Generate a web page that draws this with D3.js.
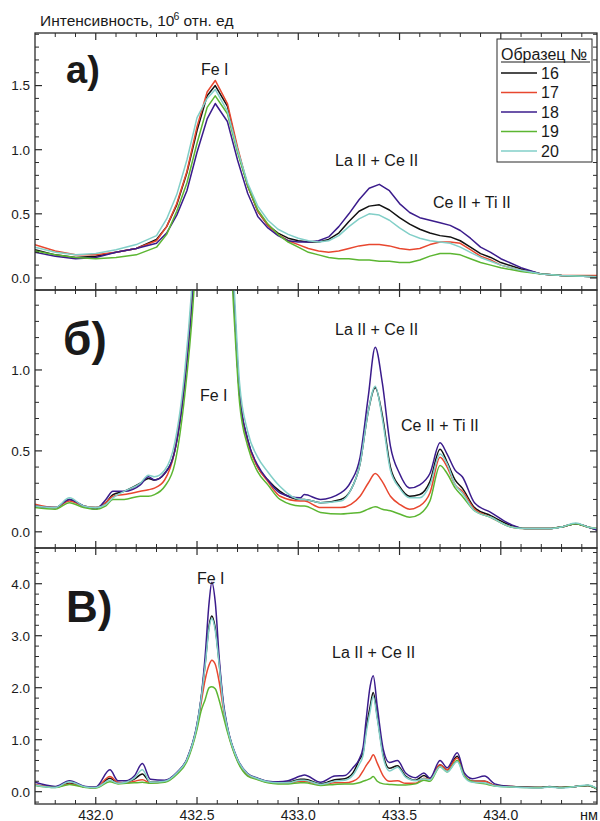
<!DOCTYPE html>
<html><head><meta charset="utf-8">
<script src="https://cdn.jsdelivr.net/npm/d3@7"></script>
<style>
body{margin:0;background:#fff}
svg{display:block}
text{font-family:"Liberation Sans",Arial,sans-serif;fill:#1a1a1a}
</style>
</head><body>
<svg id="c" width="600" height="821"></svg>
<script>
// ---------- DATA ----------
const seriesNames = ["16","17","18","19","20"];
const seriesColors = ["#111111","#e8472f","#3b1c8c","#5cb632","#82cfc8"];

// Panel а
const lambdaA = [431.70,431.80,431.90,432.00,432.10,432.20,432.30,432.35,432.40,432.45,432.50,432.55,432.59,432.65,432.70,432.75,432.80,432.85,432.90,432.95,433.00,433.05,433.10,433.15,433.20,433.25,433.30,433.35,433.40,433.45,433.50,433.55,433.60,433.65,433.70,433.75,433.80,433.85,433.90,433.95,434.00,434.10,434.20,434.30,434.48];
const a16 = [0.22,0.18,0.16,0.17,0.20,0.23,0.30,0.40,0.57,0.82,1.15,1.42,1.50,1.34,1.00,0.72,0.52,0.41,0.35,0.31,0.29,0.28,0.28,0.30,0.35,0.44,0.52,0.56,0.57,0.53,0.47,0.42,0.38,0.35,0.33,0.32,0.29,0.24,0.19,0.16,0.12,0.07,0.03,0.02,0.01];
const a17 = [0.26,0.21,0.18,0.18,0.20,0.23,0.29,0.40,0.58,0.83,1.18,1.45,1.54,1.36,1.02,0.72,0.52,0.41,0.34,0.29,0.26,0.23,0.21,0.20,0.21,0.23,0.25,0.26,0.26,0.25,0.23,0.22,0.23,0.26,0.28,0.28,0.27,0.22,0.17,0.14,0.10,0.06,0.03,0.02,0.02];
const a18 = [0.20,0.17,0.15,0.16,0.20,0.23,0.27,0.35,0.49,0.68,0.98,1.24,1.36,1.22,0.92,0.66,0.48,0.39,0.33,0.29,0.28,0.28,0.29,0.32,0.40,0.50,0.61,0.70,0.73,0.68,0.58,0.51,0.47,0.45,0.43,0.41,0.37,0.31,0.24,0.20,0.15,0.08,0.03,0.02,0.01];
const a19 = [0.21,0.18,0.16,0.15,0.16,0.18,0.24,0.34,0.52,0.74,1.05,1.33,1.42,1.28,0.98,0.72,0.53,0.42,0.34,0.28,0.24,0.20,0.18,0.16,0.15,0.15,0.14,0.14,0.13,0.13,0.12,0.12,0.14,0.17,0.19,0.19,0.18,0.15,0.12,0.10,0.08,0.05,0.03,0.02,0.01];
const a20 = [0.24,0.20,0.18,0.19,0.22,0.26,0.33,0.46,0.65,0.92,1.25,1.40,1.47,1.30,1.00,0.74,0.56,0.45,0.38,0.34,0.31,0.29,0.28,0.29,0.33,0.40,0.46,0.50,0.49,0.45,0.39,0.34,0.31,0.29,0.28,0.27,0.24,0.20,0.16,0.13,0.10,0.06,0.03,0.02,0.01];

// Panel б
const lambdaB = [431.70,431.80,431.87,431.94,432.00,432.05,432.085,432.14,432.22,432.26,432.29,432.34,432.39,432.44,432.48,432.53,432.58,432.63,432.68,432.71,432.75,432.80,432.85,432.91,433.01,433.03,433.11,433.21,433.26,433.305,433.345,433.38,433.415,433.455,433.50,433.55,433.60,433.65,433.70,433.735,433.775,433.81,433.87,433.95,434.05,434.12,434.24,434.30,434.37,434.43,434.48];
const b16 = [0.16,0.15,0.20,0.16,0.15,0.18,0.23,0.25,0.30,0.33,0.32,0.36,0.50,0.95,1.55,2.80,3.80,2.80,1.50,0.85,0.57,0.40,0.32,0.25,0.20,0.20,0.18,0.20,0.26,0.42,0.74,0.89,0.72,0.40,0.28,0.22,0.23,0.31,0.51,0.43,0.32,0.27,0.15,0.10,0.04,0.02,0.02,0.03,0.05,0.03,0.01];
const b17 = [0.17,0.15,0.19,0.16,0.15,0.18,0.22,0.23,0.25,0.26,0.27,0.32,0.50,0.95,1.55,2.80,3.80,2.80,1.50,0.85,0.56,0.40,0.31,0.22,0.19,0.19,0.15,0.15,0.17,0.22,0.30,0.36,0.31,0.22,0.17,0.14,0.16,0.24,0.46,0.40,0.29,0.25,0.14,0.09,0.03,0.02,0.02,0.03,0.05,0.03,0.02];
const b18 = [0.16,0.15,0.20,0.16,0.14,0.20,0.25,0.25,0.29,0.34,0.32,0.36,0.50,0.92,1.50,2.80,3.80,2.80,1.50,0.85,0.57,0.41,0.32,0.24,0.21,0.23,0.20,0.24,0.31,0.46,0.83,1.14,0.92,0.53,0.36,0.27,0.29,0.36,0.55,0.48,0.38,0.34,0.18,0.12,0.045,0.02,0.02,0.03,0.05,0.03,0.01];
const b19 = [0.15,0.14,0.18,0.15,0.14,0.16,0.20,0.20,0.22,0.22,0.23,0.28,0.42,0.85,1.40,2.60,3.60,2.60,1.40,0.80,0.53,0.37,0.29,0.20,0.16,0.16,0.12,0.11,0.115,0.12,0.14,0.155,0.14,0.13,0.11,0.09,0.11,0.19,0.41,0.36,0.27,0.22,0.13,0.09,0.03,0.02,0.02,0.03,0.05,0.03,0.02];
const b20 = [0.16,0.15,0.21,0.16,0.15,0.17,0.21,0.25,0.30,0.35,0.34,0.38,0.55,1.00,1.62,2.90,3.90,2.90,1.60,0.92,0.62,0.46,0.37,0.28,0.20,0.20,0.18,0.19,0.26,0.42,0.74,0.90,0.70,0.38,0.27,0.21,0.21,0.29,0.48,0.42,0.29,0.24,0.13,0.09,0.03,0.02,0.02,0.03,0.055,0.03,0.02];

// Panel в
const lambdaC = [431.70,431.80,431.87,431.95,432.00,432.07,432.11,432.15,432.19,432.23,432.27,432.34,432.40,432.45,432.50,432.52,432.54,432.56,432.573,432.59,432.61,432.63,432.65,432.70,432.75,432.80,432.85,432.90,432.95,433.01,433.03,433.11,433.18,433.23,433.27,433.30,433.32,433.335,433.355,433.37,433.39,433.42,433.45,433.49,433.53,433.58,433.62,433.65,433.70,433.735,433.785,433.82,433.86,433.92,433.97,434.05,434.19,434.24,434.30,434.37,434.43,434.48];
const c16 = [0.13,0.09,0.16,0.09,0.08,0.26,0.17,0.18,0.24,0.34,0.18,0.20,0.36,0.62,1.28,1.78,2.45,3.20,3.38,3.15,2.45,1.66,1.23,0.61,0.33,0.25,0.19,0.18,0.18,0.24,0.24,0.15,0.23,0.25,0.36,0.60,0.75,1.20,1.64,1.91,1.45,0.70,0.45,0.50,0.30,0.22,0.31,0.25,0.52,0.42,0.68,0.30,0.20,0.20,0.12,0.10,0.08,0.09,0.08,0.10,0.12,0.04];
const c17 = [0.14,0.09,0.15,0.09,0.08,0.29,0.18,0.17,0.20,0.23,0.17,0.19,0.35,0.61,1.25,1.70,2.15,2.44,2.53,2.45,2.10,1.60,1.20,0.60,0.32,0.24,0.18,0.16,0.16,0.20,0.20,0.13,0.17,0.17,0.20,0.28,0.40,0.50,0.61,0.71,0.55,0.30,0.20,0.21,0.16,0.16,0.26,0.24,0.52,0.42,0.65,0.30,0.20,0.20,0.12,0.10,0.08,0.09,0.08,0.10,0.12,0.04];
const c18 = [0.18,0.10,0.21,0.10,0.09,0.42,0.21,0.21,0.30,0.54,0.24,0.22,0.37,0.63,1.30,1.80,2.60,3.65,4.03,3.65,2.55,1.72,1.25,0.63,0.35,0.26,0.20,0.19,0.21,0.30,0.32,0.18,0.30,0.31,0.46,0.62,0.85,1.38,2.03,2.23,1.64,0.81,0.56,0.60,0.36,0.27,0.36,0.26,0.60,0.46,0.75,0.36,0.25,0.30,0.15,0.10,0.08,0.10,0.08,0.10,0.12,0.04];
const c19 = [0.12,0.08,0.14,0.08,0.07,0.19,0.15,0.16,0.17,0.18,0.16,0.18,0.33,0.58,1.20,1.55,1.77,2.00,2.02,1.98,1.75,1.45,1.15,0.58,0.30,0.23,0.17,0.15,0.15,0.17,0.17,0.12,0.14,0.15,0.15,0.17,0.20,0.22,0.25,0.29,0.20,0.15,0.14,0.13,0.13,0.15,0.22,0.20,0.48,0.38,0.60,0.30,0.19,0.15,0.11,0.09,0.08,0.09,0.08,0.10,0.12,0.04];
const c20 = [0.13,0.08,0.19,0.09,0.08,0.22,0.16,0.18,0.26,0.42,0.18,0.20,0.36,0.62,1.28,1.78,2.42,3.15,3.33,3.10,2.42,1.65,1.23,0.62,0.34,0.25,0.19,0.17,0.17,0.22,0.22,0.14,0.20,0.22,0.32,0.52,0.70,1.12,1.55,1.83,1.40,0.65,0.40,0.47,0.28,0.21,0.25,0.23,0.48,0.38,0.58,0.28,0.18,0.17,0.11,0.09,0.07,0.09,0.07,0.10,0.13,0.05];

const xMajorTicks = [432.0,432.5,433.0,433.5,434.0];
const xTickLabels = ["432.0","432.5","433.0","433.5","434.0"];

// ---------- LAYOUT ----------
const svg = d3.select("#c");
const L = 35, R = 597;
const x = d3.scaleLinear().domain([431.7, 434.475]).range([L, R]);
const axisColor = "#2b2b2b";

const panels = [
  {lam: lambdaA, ser:[a16,a17,a18,a19,a20], top:33, bottom:290, dom:[-0.094,1.91],
   major:[0,0.5,1.0,1.5], minor:d3.range(0,1.91,0.1), curve:d3.curveLinear,
   label:"а)", lsize:38, lx:66, ly:83,
   notes:[{t:"Fe I",x:201,y:75},{t:"La II + Ce II",x:335,y:166},{t:"Ce II + Ti II",x:433,y:208}]},
  {lam: lambdaB, ser:[b16,b17,b18,b19,b20], top:290, bottom:548, dom:[-0.10,1.494],
   major:[0,0.5,1.0], minor:d3.range(0,1.49,0.1), curve:d3.curveMonotoneX,
   label:"б)", lsize:46, lx:63, ly:355,
   notes:[{t:"La II + Ce II",x:335,y:335},{t:"Fe I",x:200,y:401},{t:"Ce II + Ti II",x:401,y:431}]},
  {lam: lambdaC, ser:[c16,c17,c18,c19,c20], top:548, bottom:804, dom:[-0.237,4.687],
   major:[0,1,2,3,4], minor:d3.range(-0.2,4.69,0.2), curve:d3.curveMonotoneX,
   label:"В)", lsize:44, lx:66, ly:622,
   notes:[{t:"Fe I",x:197,y:584},{t:"La II + Ce II",x:332,y:658}]}
];

const xMinor = d3.range(431.8, 434.45, 0.1).filter(v => !xMajorTicks.some(m => Math.abs(m - v) < 1e-6));

panels.forEach((p, pi) => {
  const y = d3.scaleLinear().domain(p.dom).range([p.bottom, p.top]);
  const g = svg.append("g");
  const cid = "clip" + pi;
  svg.append("clipPath").attr("id", cid).append("rect")
    .attr("x", L).attr("y", p.top).attr("width", R - L).attr("height", p.bottom - p.top);

  // lines
  const lg = g.append("g").attr("clip-path", `url(#${cid})`);
  p.ser.forEach((vals, si) => {
    const pts = p.lam.map((l, i) => [l, vals[i]]);
    lg.append("path").datum(pts)
      .attr("fill", "none").attr("stroke", seriesColors[si]).attr("stroke-width", 1.5)
      .attr("stroke-linejoin", "round")
      .attr("d", d3.line().x(d => x(d[0])).y(d => y(d[1])).curve(p.curve));
  });

  // frame
  g.append("rect").attr("x", L).attr("y", p.top).attr("width", R - L).attr("height", p.bottom - p.top)
    .attr("fill", "none").attr("stroke", axisColor).attr("stroke-width", 1.3);

  // y ticks (left & right, inward)
  p.major.forEach(v => {
    const yy = y(v);
    g.append("line").attr("x1", L).attr("x2", L + 7).attr("y1", yy).attr("y2", yy).attr("stroke", axisColor).attr("stroke-width", 1.2);
    g.append("line").attr("x1", R).attr("x2", R - 7).attr("y1", yy).attr("y2", yy).attr("stroke", axisColor).attr("stroke-width", 1.2);
    g.append("text").attr("x", L - 5).attr("y", yy).attr("dy", "0.36em").attr("text-anchor", "end")
      .attr("font-size", 13.5).text(v.toFixed(1));
  });
  p.minor.forEach(v => {
    if (p.major.some(m => Math.abs(m - v) < 1e-6)) return;
    const yy = y(v);
    g.append("line").attr("x1", L).attr("x2", L + 4).attr("y1", yy).attr("y2", yy).attr("stroke", axisColor).attr("stroke-width", 1);
    g.append("line").attr("x1", R).attr("x2", R - 4).attr("y1", yy).attr("y2", yy).attr("stroke", axisColor).attr("stroke-width", 1);
  });

  // x ticks (top & bottom, inward)
  xMajorTicks.forEach(v => {
    const xx = x(v);
    g.append("line").attr("x1", xx).attr("x2", xx).attr("y1", p.bottom).attr("y2", p.bottom - 7).attr("stroke", axisColor).attr("stroke-width", 1.2);
    g.append("line").attr("x1", xx).attr("x2", xx).attr("y1", p.top).attr("y2", p.top + 7).attr("stroke", axisColor).attr("stroke-width", 1.2);
  });
  xMinor.forEach(v => {
    const xx = x(v);
    g.append("line").attr("x1", xx).attr("x2", xx).attr("y1", p.bottom).attr("y2", p.bottom - 4).attr("stroke", axisColor).attr("stroke-width", 1);
    g.append("line").attr("x1", xx).attr("x2", xx).attr("y1", p.top).attr("y2", p.top + 4).attr("stroke", axisColor).attr("stroke-width", 1);
  });

  // panel label
  g.append("text").attr("x", p.lx).attr("y", p.ly).attr("font-size", p.lsize).attr("font-weight", "bold").text(p.label);
  // annotations
  p.notes.forEach(n => {
    g.append("text").attr("x", n.x).attr("y", n.y).attr("font-size", 16).text(n.t);
  });
});

// x tick labels (bottom panel)
xMajorTicks.forEach((v, i) => {
  svg.append("text").attr("x", x(v)).attr("y", 819.5).attr("text-anchor", "middle").attr("font-size", 14).text(xTickLabels[i]);
});
svg.append("text").attr("x", 580).attr("y", 819.5).attr("font-size", 14.5).text("нм");

// title
const t = svg.append("text").attr("x", 40).attr("y", 26).attr("font-size", 15.5);
t.append("tspan").text("Интенсивность, 10");
t.append("tspan").attr("dy", -6).attr("dx", -1).attr("font-size", 10.5).text("6");
t.append("tspan").attr("dy", 6).text(" отн. ед");

// legend
const lgx = 497, lgy = 39;
svg.append("rect").attr("x", lgx).attr("y", lgy).attr("width", 95).attr("height", 123)
  .attr("fill", "#fff").attr("stroke", axisColor).attr("stroke-width", 1);
svg.append("text").attr("x", 501).attr("y", 60).attr("font-size", 16).text("Образец №");
svg.append("line").attr("x1", 501).attr("x2", 590).attr("y1", 62).attr("y2", 62).attr("stroke", "#1a1a1a").attr("stroke-width", 1);
seriesNames.forEach((n, i) => {
  const yy = 73 + i * 19.5;
  svg.append("line").attr("x1", 501).attr("x2", 537).attr("y1", yy).attr("y2", yy)
    .attr("stroke", seriesColors[i]).attr("stroke-width", 1.5);
  svg.append("text").attr("x", 541).attr("y", yy).attr("dy", "0.36em").attr("font-size", 16).text(n);
});
</script>
</body></html>
